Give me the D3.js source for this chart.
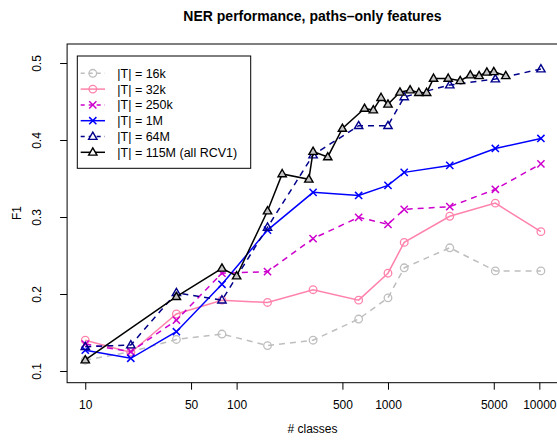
<!DOCTYPE html>
<html>
<head>
<meta charset="utf-8">
<script src="https://cdn.jsdelivr.net/npm/d3@7"></script>
<style>
  html, body { margin: 0; padding: 0; background: #fff; }
  svg { display: block; font-family: "Liberation Sans", Arial, sans-serif; }
</style>
</head>
<body>
<svg id="chart" width="557" height="441"></svg>
<script>
// ---- data ----
const classesMain = [10, 20, 40, 80, 160, 320, 640, 1000, 1280, 2560, 5120, 10240];
const f1_16k  = [0.114, 0.125, 0.141, 0.148, 0.133, 0.140, 0.1675, 0.195, 0.234, 0.260, 0.230, 0.230];
const f1_32k  = [0.140, 0.124, 0.174, 0.192, 0.189, 0.2056, 0.192, 0.227, 0.267, 0.301, 0.318, 0.281];
const f1_250k = [0.135, 0.125, 0.166, 0.227, 0.229, 0.272, 0.2996, 0.2905, 0.310, 0.3134, 0.336, 0.369];
const f1_1M   = [0.127, 0.1165, 0.151, 0.2126, 0.283, 0.332, 0.328, 0.341, 0.358, 0.367, 0.389, 0.402];
const f1_64M  = [0.1316, 0.1338, 0.2017, 0.192, 0.2866, 0.3805, 0.4186, 0.4186, 0.456, 0.4714, 0.4792, 0.4922];
const classes115M = [10, 40, 80, 100, 160, 200, 300, 320, 400, 500, 700, 800, 900, 1000, 1200, 1400, 1600, 1800, 2000, 2500, 3000, 3500, 4000, 4500, 5000, 6000];
const f1_115M = [0.1143, 0.1965, 0.2334, 0.2234, 0.3078, 0.356, 0.349, 0.385, 0.378, 0.415, 0.441, 0.439, 0.455, 0.4464, 0.462, 0.465, 0.4615, 0.4615, 0.480, 0.480, 0.477, 0.4844, 0.4835, 0.488, 0.4887, 0.4835];

const xTicks = [10, 50, 100, 500, 1000, 5000, 10000];
const yTicks = [0.1, 0.2, 0.3, 0.4, 0.5];
const seriesLabels = ["|T| = 16k", "|T| = 32k", "|T| = 250k", "|T| = 1M", "|T| = 64M", "|T| = 115M (all RCV1)"];
const seriesColors = ["#bebebe", "#ff82ab", "#cd00cd", "#0000ff", "#00008b", "#000000"];
const seriesDashed = [true, false, true, false, true, false];
const seriesShapes = ["circle", "circle", "cross", "cross", "triangle", "triangle"];

const series = [
  { x: classesMain, y: f1_16k },
  { x: classesMain, y: f1_32k },
  { x: classesMain, y: f1_250k },
  { x: classesMain, y: f1_1M },
  { x: classesMain, y: f1_64M },
  { x: classes115M, y: f1_115M }
].map((s, i) => ({ ...s, label: seriesLabels[i], color: seriesColors[i], dashed: seriesDashed[i], shape: seriesShapes[i] }));

// ---- layout ----
const svg = d3.select("#chart");
const pLeft = 67.1, pRight = 557.5, pTop = 44, pBottom = 382.7;

const x = d3.scaleLog().domain([Math.pow(10, 0.88), Math.pow(10, 4.12)]).range([pLeft, pRight]);
const y = d3.scaleLinear().domain([0.0848, 0.5247]).range([pBottom, pTop]);

// title
svg.append("text").attr("x", 312.5).attr("y", 20.5).attr("text-anchor", "middle")
  .attr("font-weight", "bold").attr("font-size", "14px").text("NER performance, paths\u2013only features");

// axes
const xAxis = svg.append("g").attr("transform", `translate(0,${pBottom})`)
  .call(d3.axisBottom(x).tickValues(xTicks).tickFormat(d3.format("d")).tickSize(7).tickPadding(11));
xAxis.select(".domain").remove();
xAxis.selectAll("text").attr("font-size", "12px").attr("font-family", "Liberation Sans, Arial, sans-serif").attr("fill", "#000");
xAxis.selectAll("line").attr("stroke", "#000");

const yAxis = svg.append("g").attr("transform", `translate(${pLeft},0)`)
  .call(d3.axisLeft(y).tickValues(yTicks).tickFormat(d3.format(".1f")).tickSize(7));
yAxis.select(".domain").remove();
yAxis.selectAll("line").attr("stroke", "#000");
yAxis.selectAll("text").remove();
yAxis.selectAll(".tick").append("text")
  .attr("transform", "translate(-26,0) rotate(-90)")
  .attr("text-anchor", "middle").attr("font-size", "12px").attr("fill", "#000")
  .attr("font-family", "Liberation Sans, Arial, sans-serif")
  .text(d => d3.format(".1f")(d));

// axis titles
svg.append("text").attr("x", 312.5).attr("y", 433).attr("text-anchor", "middle").attr("font-size", "12px").text("# classes");
svg.append("text").attr("transform", `translate(21,213) rotate(-90)`).attr("text-anchor", "middle").attr("font-size", "12px").text("F1");

// box
svg.append("rect").attr("x", pLeft).attr("y", pTop).attr("width", pRight - pLeft).attr("height", pBottom - pTop)
  .attr("fill", "none").attr("stroke", "#000").attr("stroke-width", 1);

// symbols
function drawSymbol(g, shape, cx, cy, color, fill) {
  if (shape === "circle") {
    g.append("circle").attr("cx", cx).attr("cy", cy).attr("r", 3.8).attr("fill", "none").attr("stroke", color).attr("stroke-width", 1.3);
  } else if (shape === "cross") {
    const s = 3.6;
    g.append("path").attr("d", `M${cx - s},${cy - s}L${cx + s},${cy + s}M${cx - s},${cy + s}L${cx + s},${cy - s}`)
      .attr("stroke", color).attr("stroke-width", 1.5).attr("fill", "none");
  } else {
    const s = 4.4;
    g.append("path").attr("d", `M${cx},${cy - s}L${cx + s * 0.95},${cy + s * 0.65}L${cx - s * 0.95},${cy + s * 0.65}Z`)
      .attr("stroke", color).attr("stroke-width", 1.4).attr("fill", fill || "none");
  }
}

const line = d3.line().x(d => x(d[0])).y(d => y(d[1]));
const plot = svg.append("g");
series.forEach(s => {
  const pts = s.x.map((v, i) => [v, s.y[i]]);
  plot.append("path").attr("d", line(pts)).attr("fill", "none").attr("stroke", s.color)
    .attr("stroke-width", 1.5).attr("stroke-dasharray", s.dashed ? "6,5" : null);
  const fill = s.color === "#000000" ? "#c4c4c4" : "none";
  pts.forEach(p => drawSymbol(plot, s.shape, x(p[0]), y(p[1]), s.color, fill));
});

// legend
const lg = svg.append("g");
lg.append("rect").attr("x", 77.3).attr("y", 56).attr("width", 173.4).attr("height", 112.3)
  .attr("fill", "#fff").attr("stroke", "#000").attr("stroke-width", 1);
series.forEach((s, i) => {
  const ly = 73.3 + i * 15.8;
  lg.append("line").attr("x1", 80.7).attr("x2", 105).attr("y1", ly).attr("y2", ly)
    .attr("stroke", s.color).attr("stroke-width", 1.5).attr("stroke-dasharray", s.dashed ? "4,4" : null);
  drawSymbol(lg, s.shape, 92.8, ly, s.color, "#fff");
  lg.append("text").attr("x", 117.3).attr("y", ly).attr("dy", "0.36em").attr("font-size", "12.5px").text(s.label);
});
</script>
</body>
</html>
